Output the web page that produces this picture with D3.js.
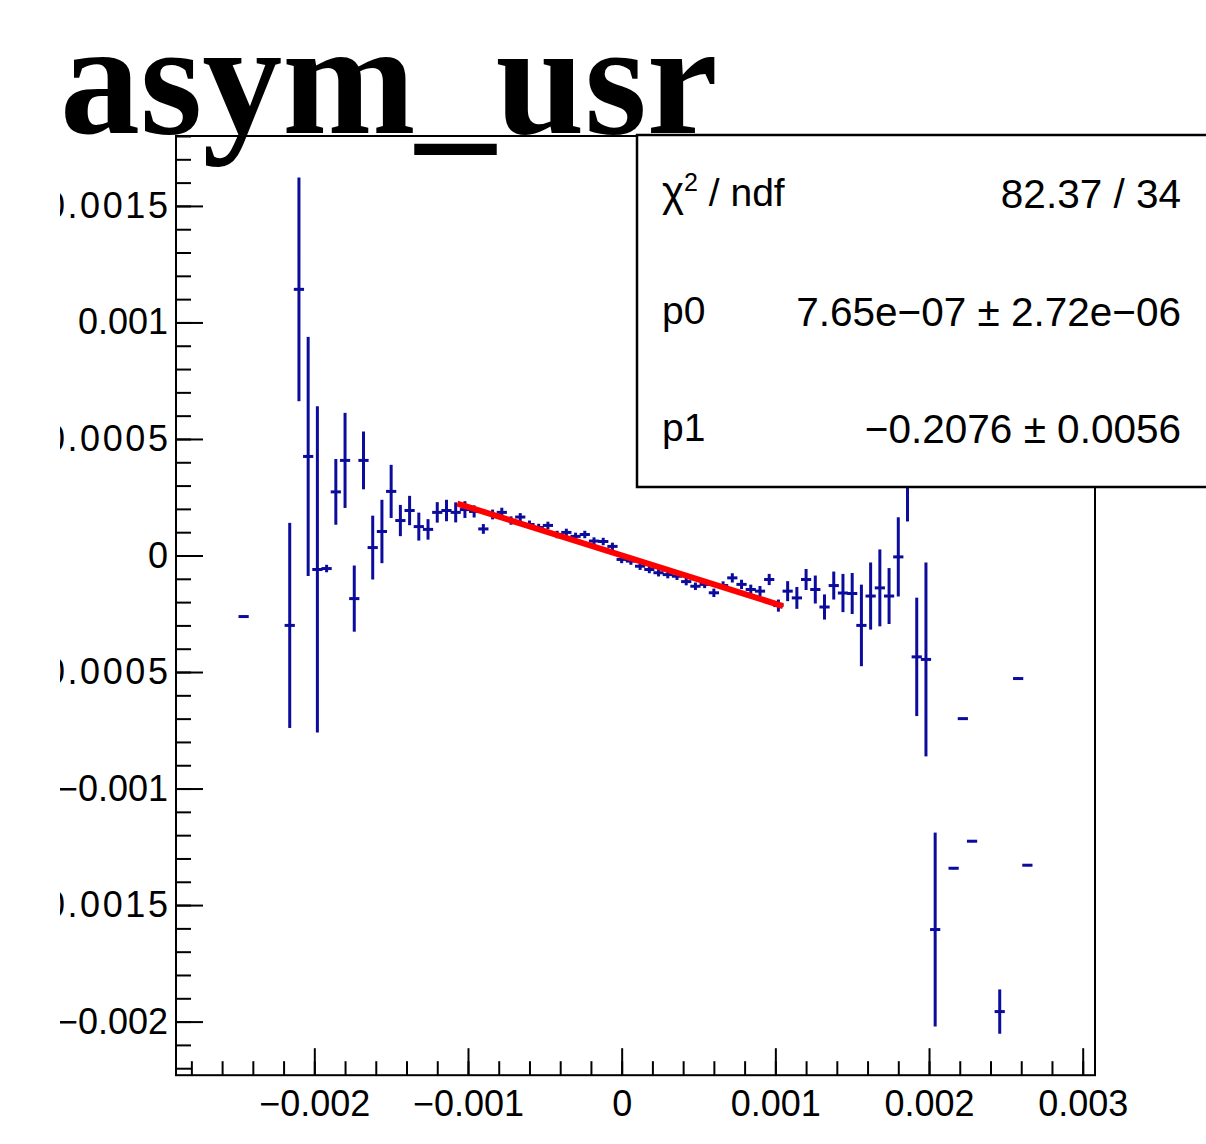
<!DOCTYPE html>
<html><head><meta charset="utf-8">
<script src="https://cdn.jsdelivr.net/npm/d3@7"></script>
<style>body{margin:0;background:#fff;overflow:hidden}</style>
</head><body>
<svg id="c" width="1206" height="1144" xmlns="http://www.w3.org/2000/svg"></svg>
<script>
// ---- data ----
const title = "asym_usr";
const binWidth = 0.00006;
const binIndex = [-41,-36,-35,-34,-33,-32,-31,-30,-29,-28,-27,-26,-25,-24,-23,-22,-21,-20,-19,-18,
  -17,-16,-15,-14,-13,-12,-11,-10,-9,-8,-7,-6,-5,-4,-3,-2,-1,0,1,2,3,4,5,6,7,8,9,
  10,11,12,13,14,15,16,17,18,19,20,21,22,23,24,25,26,27,28,29,30,31,32,33,34,36,37,38,41,43,44];
const values = [-0.000262,-0.000300,0.001142,0.000425,-0.000060,-0.000056,0.000273,0.000408,-0.000185,0.000408,
  0.000034,0.000103,0.000275,0.000150,0.000193,0.000124,0.000112,0.000185,0.000193,0.000185,
  0.000197,0.000189,0.000114,0.000176,0.000185,0.000150,0.000165,0.000133,0.000120,0.000129,
  0.000090,0.000099,0.000082,0.000090,0.000062,0.000060,0.000039,-0.000017,-0.000024,-0.000046,
  -0.000060,-0.000074,-0.000082,-0.000089,-0.000112,-0.000132,-0.000124,-0.000160,-0.000129,-0.000096,
  -0.000124,-0.000146,-0.000153,-0.000103,-0.000215,-0.000153,-0.000182,-0.000103,-0.000146,-0.000221,
  -0.000129,-0.000161,-0.000163,-0.000300,-0.000174,-0.000139,-0.000174,-0.000006,0.000400,-0.000435,
  -0.000446,-0.001605,-0.001342,-0.000700,-0.001226,-0.001957,-0.000528,-0.001329];
const errors = [0.000004,0.00044,0.00048,0.000513,0.0007,0.000016,0.000141,0.000204,0.000142,0.000124,
  0.000137,0.000136,0.000114,0.000067,0.000063,0.00006,0.000044,0.000044,0.000046,0.000043,
  0.000036,0.000026,0.000021,0.000021,0.00002,0.000018,0.000017,0.000017,0.000016,0.000016,
  0.000016,0.000016,0.000016,0.000016,0.000016,0.000016,0.000016,0.000016,0.000016,0.000016,
  0.000016,0.000016,0.000016,0.000016,0.000016,0.000016,0.000016,0.000018,0.000018,0.00002,
  0.00002,0.000021,0.000022,0.000024,0.000026,0.000043,0.000047,0.000045,0.00006,0.000054,
  0.00006,0.000082,0.000088,0.000175,0.000144,0.000165,0.00012,0.00017,0.000254,0.000254,
  0.000416,0.000416,0.000004,0.000004,0.000004,0.000095,0.000004,0.000004];
const fitP0 = 7.65e-7, fitP1 = -0.2076;
const fitRange = [-0.00107, 0.00105];
const xTicks = [-0.002,-0.001,0,0.001,0.002,0.003];
const xTickLabels = ["\u22120.002","\u22120.001","0","0.001","0.002","0.003"];
const yTicks = [-0.002,-0.0015,-0.001,-0.0005,0,0.0005,0.001,0.0015];
const yTickLabels = ["\u22120.002","\u22120.0015","\u22120.001","\u22120.0005","0","0.0005","0.001","0.0015"];
const statLabels = ["\u03c7", "p0", "p1"];
const statValues = ["82.37 / 34", "7.65e\u221207 \u00b1 2.72e\u221206", "\u22120.2076 \u00b1 0.0056"];

// ---- drawing ----
const svg = d3.select("#c");
const F = {l:176, r:1095, t:136, b:1075.2};
const x = d3.scaleLinear().domain([-0.0029, 0.00308]).range([F.l, F.r]);
const y = d3.scaleLinear().domain([-0.00223, 0.0018]).range([F.b, F.t]);
const sans = "'Liberation Sans', Arial, Helvetica, sans-serif";
const blue = "#0c0c9c";

const defs = svg.append("defs");
defs.append("clipPath").attr("id","plot").append("rect")
  .attr("x",F.l).attr("y",F.t).attr("width",F.r-F.l).attr("height",F.b-F.t);
defs.append("clipPath").attr("id","ylab").append("rect")
  .attr("x",60).attr("y",0).attr("width",200).attr("height",1144);

// axes
const xMajor = d3.axisBottom(x).tickValues(xTicks).tickFormat((d,i)=>xTickLabels[i])
  .tickSizeInner(-27).tickSizeOuter(0).tickPadding(15);
const xMinor = d3.axisBottom(x).tickValues(x.ticks(30)).tickFormat("").tickSizeInner(-14).tickSizeOuter(0);
const yMajor = d3.axisLeft(y).tickValues(yTicks).tickFormat((d,i)=>yTickLabels[i])
  .tickSizeInner(-27).tickSizeOuter(0).tickPadding(8);
const yMinor = d3.axisLeft(y).tickValues(y.ticks(40)).tickFormat("").tickSizeInner(-15).tickSizeOuter(0);

function style(g){
  g.select(".domain").remove();
  g.selectAll(".tick line").attr("stroke","#000").attr("stroke-width",2);
  g.selectAll(".tick text").attr("fill","#000").style("font-family",sans).style("font-size","36px");
}
svg.append("g").attr("transform",`translate(0,${F.b})`).call(xMinor).call(style);
svg.append("g").attr("transform",`translate(0,${F.b})`).call(xMajor).call(style);
svg.append("g").attr("transform",`translate(${F.l},0)`).call(yMinor).call(style);
const yg = svg.append("g").attr("transform",`translate(${F.l},0)`).call(yMajor).call(style);
// labels with four decimals are set a little wider, as in the reference
yg.selectAll(".tick text").filter((d,i)=>/\.\d{4}$/.test(yTickLabels[i]))
  .style("letter-spacing","2.6px").attr("dx", 2.6);
svg.append("g").attr("clip-path","url(#ylab)").node().appendChild(yg.node());

// data points
const pts = binIndex.map((k,i)=>({c:k*binWidth, v:values[i], e:errors[i]}));
const dg = svg.append("g").attr("clip-path","url(#plot)")
  .attr("stroke",blue).attr("stroke-width",3).attr("fill","none");
dg.selectAll("line.v").data(pts).join("line").attr("class","v")
  .attr("x1",d=>x(d.c)).attr("x2",d=>x(d.c))
  .attr("y1",d=>y(d.v-d.e)).attr("y2",d=>y(d.v+d.e));
dg.selectAll("line.h").data(pts).join("line").attr("class","h")
  .attr("stroke-linecap","square")
  .attr("x1",d=>x(d.c-binWidth/2)+1).attr("x2",d=>x(d.c+binWidth/2)-1)
  .attr("y1",d=>y(d.v)).attr("y2",d=>y(d.v));

// fit line
svg.append("path").datum(fitRange)
  .attr("d", d3.line().x(d=>x(d)).y(d=>y(fitP0+fitP1*d)))
  .attr("stroke","#ff0000").attr("stroke-width",6).attr("fill","none");

// frame
svg.append("rect").attr("x",F.l).attr("y",F.t).attr("width",F.r-F.l).attr("height",F.b-F.t)
  .attr("fill","none").attr("stroke","#000").attr("stroke-width",2);

// stats box
const box = {x:637, y:135, w:620, h:352};
svg.append("rect").attr("x",box.x).attr("y",box.y).attr("width",box.w).attr("height",box.h)
  .attr("fill","#fff").attr("stroke","#000").attr("stroke-width",2.5);
const rowBase = [206, 324, 441];
statLabels.forEach((lab,i)=>{
  const t = svg.append("text").attr("x",662).attr("y",rowBase[i])
    .style("font-family",sans).style("font-size","39px").attr("fill","#000");
  if(i===0){
    t.append("tspan").style("font-size","42px").text(lab);
    t.append("tspan").attr("dy",-15).style("font-size","25px").text("2");
    t.append("tspan").attr("dy",15).text(" / ndf");
  } else t.text(lab);
  svg.append("text").attr("x",1181).attr("y",rowBase[i]+2).attr("text-anchor","end")
    .style("font-family",sans).style("font-size","40.5px").attr("fill","#000").text(statValues[i]);
});

// title
svg.append("text").attr("x",60).attr("y",133)
  .style("font-family","'Liberation Serif','Times New Roman',serif").style("font-weight","bold")
  .style("font-size","160px").attr("fill","#000").text(title);
</script>
</body></html>
